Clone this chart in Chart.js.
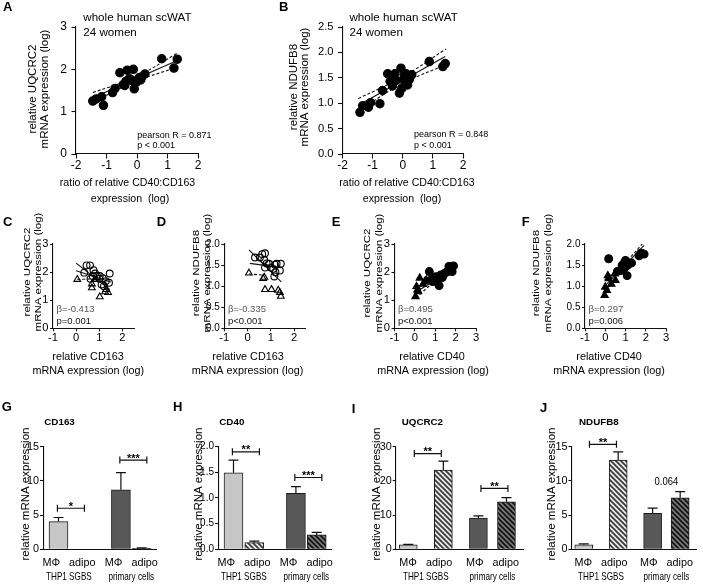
<!DOCTYPE html>
<html><head><meta charset="utf-8">
<script src="https://cdn.jsdelivr.net/npm/chart.js@4.4.1/dist/chart.umd.min.js"></script>
<style>
html,body{margin:0;padding:0;background:#fff;}
#fig{position:relative;width:703px;height:584px;overflow:hidden;background:#fff;}
#fig canvas{position:absolute;}
</style></head><body><div id="fig"></div>
<script>
// ================= DATA =================
// Panel A: UQCRC2 vs CD40:CD163 ratio (log)
const aX = [-1.45,-1.34,-1.16,-1.10,-0.80,-0.72,-0.56,-0.45,-0.36,-0.32,-0.25,-0.12,-0.17,-0.09,0.01,0.08,0.16,0.26,0.81,1.21,1.32,-0.40,0.12,-0.02];
const aY = [1.25,1.30,1.35,1.15,1.45,1.55,1.92,1.64,1.72,1.98,1.78,2.00,1.74,1.54,1.74,1.81,1.82,1.89,2.25,2.03,2.24,1.62,1.75,1.70];
const aFitX = [-1.45, 1.30], aFitY = [1.33, 2.20];
const aUpX = [-1.45, -0.10, 1.32], aUpY = [1.45, 1.80, 2.38];
const aLoX = [-1.45, -0.10, 1.32], aLoY = [1.22, 1.70, 2.05];
const aXTicks = [-2,-1,0,1,2], aYTicks = [0,1,2,3];
// Panel B: NDUFB8 vs CD40:CD163 ratio (log)
const bX = [-1.42,-1.33,-1.14,-1.07,-0.76,-0.67,-0.50,-0.42,-0.34,-0.26,-0.22,-0.11,-0.06,-0.03,0.02,0.11,0.16,0.22,0.30,0.88,1.33,1.41,-0.30,0.05];
const bY = [0.82,0.95,0.92,1.01,0.99,1.25,1.58,1.43,1.34,1.58,1.45,1.20,1.69,1.29,1.46,1.58,1.36,1.47,1.56,1.82,1.72,1.78,1.50,1.55];
const bFitX = [-1.44, 1.41], bFitY = [0.97, 1.92];
const bUpX = [-1.48, 0.00, 1.44], bUpY = [1.09, 1.52, 2.07];
const bLoX = [-1.40, 0.00, 1.44], bLoY = [0.88, 1.39, 1.76];
const bXTicks = [-2,-1,0,1,2], bYTicks = [0,0.5,1,1.5,2,2.5];
// Panel C: UQCRC2 vs CD163 (circles / triangles)
const cCircX = [0.45,0.60,0.35,0.75,0.82,0.90,1.02,1.00,1.15,1.28,1.42,1.45,1.10,1.20,0.72,0.62];
const cCircY = [2.24,2.24,1.98,2.07,1.95,1.86,1.86,1.76,1.78,1.68,1.62,1.95,1.56,1.50,1.86,1.76];
const cTriX = [0.05,0.68,0.68,1.02,1.30,1.38,0.80,1.25];
const cTriY = [1.74,1.58,1.44,1.12,1.38,1.27,1.74,1.30];
const cFit1X = [0.00, 1.45], cFit1Y = [2.32, 1.38];
const cFit2X = [0.00, 1.50], cFit2Y = [2.05, 1.65];
const cDashX = [0.05, 0.90], cDashY = [1.74, 1.76];
const cXTicks = [-1,0,1,2], cYTicks = [0,1,2,3];
// Panel D: NDUFB8 vs CD163
const dCircX = [0.32,0.53,0.63,0.75,0.72,0.82,0.92,0.75,1.00,1.10,1.18,1.25,1.43,1.39,1.15,1.20];
const dCircY = [1.68,1.68,1.76,1.78,1.62,1.54,1.53,1.44,1.44,1.41,1.51,1.53,1.53,1.37,1.23,1.33];
const dTriX = [0.06,0.67,0.72,0.75,1.03,1.32,1.43,1.39];
const dTriY = [1.31,1.18,1.21,0.92,0.92,0.90,0.76,0.85];
const dFit1X = [0.06, 1.45], dFit1Y = [1.86, 1.10];
const dFit2X = [0.10, 1.45], dFit2Y = [1.54, 1.44];
const dDashX = [0.06, 0.72], dDashY = [1.29, 1.26];
const dXTicks = [-1,0,1,2], dYTicks = [0,0.5,1,1.5,2];
// Panel E: UQCRC2 vs CD40
const eCircX = [0.71,0.83,0.92,1.03,1.11,1.27,1.35,1.67,1.90,1.83,1.19,0.88,1.45,0.98,1.55,1.05];
const eCircY = [2.02,1.75,1.81,1.84,1.72,1.90,1.81,2.20,2.22,2.02,1.52,1.66,1.95,1.70,2.00,1.78];
const eTriX = [0.03,0.13,0.24,0.40,0.48,0.56,0.08,0.16];
const eTriY = [1.13,1.37,1.79,1.57,1.66,1.72,1.49,1.31];
const eFitX = [-0.05, 1.97], eFitY = [1.25, 2.13];
const eUpX = [-0.05, 1.00, 1.97], eUpY = [1.42, 1.78, 2.28];
const eLoX = [0.05, 1.00, 1.97], eLoY = [1.08, 1.66, 1.98];
const eXTicks = [-1,0,1,2,3], eYTicks = [0,1,2,3];
// Panel F: NDUFB8 vs CD40
const fCircX = [0.17,0.83,0.92,1.00,1.08,1.17,0.75,1.08,1.67,1.92,1.75,0.92,1.30,0.60];
const fCircY = [1.65,1.49,1.54,1.61,1.49,1.53,1.37,1.25,1.72,1.76,1.78,1.41,1.55,1.35];
const fTriX = [-0.03,0.00,0.08,0.17,0.13,0.50,0.47,0.30];
const fTriY = [0.78,0.98,0.90,1.18,1.25,1.14,1.29,1.05];
const fFitX = [-0.03, 1.92], fFitY = [1.00, 1.97];
const fUpX = [-0.03, 0.90, 1.92], fUpY = [1.15, 1.52, 2.05];
const fLoX = [0.00, 0.90, 1.92], fLoY = [0.88, 1.42, 1.88];
const fXTicks = [-1,0,1,2,3], fYTicks = [0,0.5,1,1.5,2];
// Bar panels (order: MΦ THP1, adipo SGBS, MΦ primary, adipo primary)
const barGroups = ['MΦ   adipo', 'MΦ   adipo'];
const barSources = ['THP1 SGBS', 'primary cells'];
const gMeans = [4.05, 0, 8.70, 0.15], gErr = [0.60, 0, 2.50, 0.05];
const hMeans = [1.49, 0.13, 1.09, 0.28], hErr = [0.25, 0.03, 0.13, 0.05];
const iMeans = [1.30, 23.2, 9.10, 13.9], iErr = [0.15, 2.60, 0.70, 1.20];
const jMeans = [0.65, 13.05, 5.26, 7.54], jErr = [0.15, 1.20, 0.75, 0.88];
const gYTicks = [0,5,10,15], hYTicks = [0,0.5,1,1.5,2], iYTicks = [0,10,20,30], jYTicks = [0,5,10,15];
const gSig = [{a:0,b:1,y:6.0,t:'*'},{a:2,b:3,y:13.05,t:'***'}];
const hSig = [{a:0,b:1,y:1.90,t:'**'},{a:2,b:3,y:1.40,t:'***'}];
const iSig = [{a:0,b:1,y:28.0,t:'**'},{a:2,b:3,y:17.8,t:'**'}];
const jSig = [{a:0,b:1,y:15.35,t:'**'},{a:2,b:3,y:9.8,t:'0.064',plain:true}];

// ================= HELPERS =================
const FONT = "'Liberation Sans', Arial, Helvetica, sans-serif";
const INK = '#000';
const fig = document.getElementById('fig');
function makeCanvas(r) {
  const c = document.createElement('canvas');
  c.width = r.w; c.height = r.h;
  c.style.left = r.l + 'px'; c.style.top = r.t + 'px';
  c.style.width = r.w + 'px'; c.style.height = r.h + 'px';
  fig.appendChild(c);
  return c;
}
function drawText(ctx, t, x, y, o) {
  ctx.save();
  ctx.font = (o.bold ? 'bold ' : '') + (o.size || 11.5) + 'px ' + FONT;
  ctx.fillStyle = o.color || INK;
  ctx.textAlign = o.align || 'center';
  ctx.textBaseline = o.baseline || 'middle';
  ctx.translate(x, y);
  if (o.sq) ctx.scale(o.sq, 1);
  if (o.rot) ctx.rotate(o.rot * Math.PI / 180);
  ctx.fillText(t, 0, 0);
  ctx.restore();
}
function textPlugin(items, r) {
  return { id: 'freeText', afterDraw(chart) {
    for (const [t, x, y, o = {}] of items) drawText(chart.ctx, t, x - r.l, y - r.t, o);
  }};
}
function linAxis(o) {
  return {
    type: 'linear', position: o.horizontal ? 'bottom' : 'left',
    min: o.min, max: o.max, offset: false,
    afterBuildTicks: s => { s.ticks = o.ticks.map(v => ({ value: v })); },
    afterFit: s => {
      if (o.horizontal) { s.height = o.fix; s.paddingLeft = 0; s.paddingRight = 0; }
      else { s.width = o.fix; s.paddingTop = 0; s.paddingBottom = 0; }
    },
    grid: { display: true, offset: false, drawOnChartArea: false, drawTicks: o.tickLen > 0, tickLength: o.tickLen, tickColor: '#111', tickWidth: 1.1 },
    border: { display: true, color: '#111', width: 1.1 },
    ticks: {
      color: INK, font: { family: FONT, size: o.size, lineHeight: o.lh || 1.2 },
      padding: o.pad, autoSkip: false, maxRotation: 0, minRotation: 0,
      callback: o.labels ? ((v, i) => o.labels[i]) : (v => o.fmt ? Number(v).toFixed(o.fmt) : String(v))
    }
  };
}
const pts = (xs, ys) => xs.map((x, i) => ({ x, y: ys[i] }));
function pointSet(xs, ys, style, r, filled) {
  return { data: pts(xs, ys), pointStyle: style, pointRadius: r, pointHoverRadius: r,
    backgroundColor: filled ? '#000' : 'rgba(0,0,0,0)', borderColor: '#000',
    pointBorderWidth: 1.1, borderWidth: 1.1, showLine: false };
}
function lineSet(xs, ys, dashed) {
  return { data: pts(xs, ys), showLine: true, pointRadius: 0, borderColor: '#111', borderWidth: 1.1,
    borderDash: dashed ? [3, 2] : [], tension: xs.length > 2 ? 0.4 : 0, fill: false };
}
function baseOpts(r, a) {
  return {
    responsive: false, animation: false, events: [],
    layout: { padding: { left: 0, top: a.t - r.t, right: r.l + r.w - a.r, bottom: 0 } },
    plugins: { legend: { display: false }, tooltip: { enabled: false }, title: { display: false } }
  };
}
function scatterPanel(r, a, xAx, yAx, datasets, texts) {
  const opts = baseOpts(r, a);
  opts.scales = {
    x: linAxis(Object.assign({ horizontal: true, fix: r.t + r.h - a.b }, xAx)),
    y: linAxis(Object.assign({ fix: a.l - r.l }, yAx))
  };
  new Chart(makeCanvas(r), { type: 'scatter', data: { datasets }, options: opts, plugins: [textPlugin(texts, r)] });
}
function hatch(base, stripe) {
  const n = 5, c = document.createElement('canvas'); c.width = n; c.height = n;
  const g = c.getContext('2d');
  g.fillStyle = base; g.fillRect(0, 0, n, n);
  g.strokeStyle = stripe; g.lineWidth = 1.7; g.beginPath();
  for (const k of [-n, 0, n]) { g.moveTo(k - 1, -1); g.lineTo(k + n + 1, n + 1); }
  g.stroke();
  return g.createPattern(c, 'repeat');
}
const barColors = ['#c6c6c6', hatch('#e8e8e8', '#3a3a3a'), '#585858', hatch('#787878', '#111')];
function barExtras(means, errs, sig, groupPos) {
  return { id: 'barExtras', afterDatasetsDraw(chart) {
    const ctx = chart.ctx, ys = chart.scales.y, xs = chart.scales.x;
    const bars = chart.getDatasetMeta(0).data;
    ctx.save(); ctx.strokeStyle = '#111'; ctx.lineWidth = 1.2;
    bars.forEach((b, i) => {
      if (!errs[i]) return;
      const y0 = ys.getPixelForValue(means[i]), y1 = ys.getPixelForValue(means[i] + errs[i]);
      ctx.beginPath(); ctx.moveTo(b.x, y0); ctx.lineTo(b.x, y1);
      ctx.moveTo(b.x - 5, y1); ctx.lineTo(b.x + 5, y1); ctx.stroke();
    });
    sig.forEach(s => {
      const cx = (bars[s.a].x + bars[s.b].x) / 2 + (s.plain ? 0 : 2);
      const yy = ys.getPixelForValue(s.y);
      if (s.plain) { drawText(ctx, s.t, cx, yy, { size: 10.5, sq: 0.9 }); return; }
      ctx.beginPath();
      ctx.moveTo(cx - 13.5, yy); ctx.lineTo(cx + 13.5, yy);
      ctx.moveTo(cx - 13.5, yy - 3.5); ctx.lineTo(cx - 13.5, yy + 3.5);
      ctx.moveTo(cx + 13.5, yy - 3.5); ctx.lineTo(cx + 13.5, yy + 3.5);
      ctx.stroke();
      drawText(ctx, s.t, cx, yy + 1.5, { size: 11, bold: true, baseline: 'alphabetic' });
    });
    // second label line: cell source under each pair
    groupPos.forEach((p, g) => drawText(ctx, barSources[g], xs.getPixelForValue(p), chart.chartArea.bottom + 27.6, { size: 10.2, sq: 0.8 }));
    ctx.restore();
  }};
}
function barPanel(r, a, pos, xMin, xMax, thick, means, errs, yMax, yTicks, yFmt, sig, texts) {
  const opts = baseOpts(r, a);
  const groupPos = [(pos[0] + pos[1]) / 2, (pos[2] + pos[3]) / 2];
  opts.scales = {
    x: linAxis({ horizontal: true, fix: r.t + r.h - a.b, min: xMin, max: xMax, ticks: groupPos, labels: barGroups,
                 size: 10.8, lh: 1.28, tickLen: 0, pad: 7.1 }),
    y: linAxis({ fix: a.l - r.l, min: 0, max: yMax, ticks: yTicks, fmt: yFmt, size: yFmt ? 10 : 10.8, tickLen: 3.3, pad: 1 })
  };
  new Chart(makeCanvas(r), {
    type: 'bar',
    data: { datasets: [{ data: pos.map((p, i) => ({ x: p, y: means[i] })), backgroundColor: barColors,
      borderColor: '#1a1a1a', borderWidth: 1, barThickness: thick, borderSkipped: 'start' }] },
    options: opts,
    plugins: [barExtras(means, errs, sig, groupPos), textPlugin(texts, r)]
  });
}
const L = (t, x, y) => [t, x, y, { bold: true, size: 13, align: 'left' }];
const YT = (t, x, y, sq) => [t, x, y, { rot: -90, size: 11.5, sq: sq || 1 }];
const T = (t, x, y, o) => [t, x, y, Object.assign({ size: 10.8 }, o || {})];
const S = (t, x, y, c) => [t, x, y, { size: 9.5, align: 'left', color: c || '#111' }];

// ================= PANELS =================
const big = { size: 12, tickLen: 4.5 };
scatterPanel({ l: 0, t: 0, w: 268, h: 208 }, { l: 76, t: 27, r: 198, b: 154 },
  Object.assign({ min: -2, max: 2, ticks: aXTicks, pad: 0 }, big),
  Object.assign({ min: 0, max: 3, ticks: aYTicks, pad: 4.5 }, big),
  [pointSet(aX, aY, 'circle', 4.2, true), lineSet(aFitX, aFitY, false), lineSet(aUpX, aUpY, true), lineSet(aLoX, aLoY, true)],
  [L('A', 3, 7), T('whole human scWAT', 83.3, 18, { align: 'left', size: 11.6 }), T('24 women', 83.3, 32.7, { align: 'left', size: 11.6 }),
   [ 'pearson R = 0.871', 137.3, 135.5, { size: 9, align: 'left' } ], [ 'p < 0.001', 137.3, 145.7, { size: 9, align: 'left' } ],
   YT('relative UQCRC2', 33.3, 89, 0.92), YT('mRNA expression (log)', 44.7, 89, 0.92),
   T('ratio of relative CD40:CD163', 127.5, 182.7, { size: 10.6 }), T('expression  (log)', 130, 199, { size: 10.6 })]);

scatterPanel({ l: 270, t: 0, w: 240, h: 208 }, { l: 342.5, t: 27, r: 463, b: 154 },
  Object.assign({ min: -2, max: 2, ticks: bXTicks, pad: 0 }, big),
  Object.assign({ min: 0, max: 2.5, ticks: bYTicks, fmt: 1, pad: 4.5 }, big, { size: 11.2 }),
  [pointSet(bX, bY, 'circle', 4.2, true), lineSet(bFitX, bFitY, false), lineSet(bUpX, bUpY, true), lineSet(bLoX, bLoY, true)],
  [L('B', 279, 7), T('whole human scWAT', 349.5, 18, { align: 'left', size: 11.6 }), T('24 women', 349.5, 32.7, { align: 'left', size: 11.6 }),
   [ 'pearson R = 0.848', 414, 135, { size: 9, align: 'left' } ], [ 'p < 0.001', 414, 145.5, { size: 9, align: 'left' } ],
   YT('relative NDUFB8', 293.7, 87, 0.92), YT('mRNA expression (log)', 305, 87, 0.92),
   T('ratio of relative CD40:CD163', 407, 183, { size: 10.6 }), T('expression  (log)', 402, 199, { size: 10.6 })]);

const sm = { size: 11.2, tickLen: 3 };
const smD = { size: 10, tickLen: 3 };
scatterPanel({ l: 0, t: 212, w: 165, h: 168 }, { l: 53, t: 244, r: 134, b: 328.3 },
  Object.assign({ min: -1, max: 2.5, ticks: cXTicks, pad: 0 }, sm),
  Object.assign({ min: 0, max: 3, ticks: cYTicks, pad: 1.5 }, sm),
  [pointSet(cCircX, cCircY, 'circle', 3.4, false), pointSet(cTriX, cTriY, 'triangle', 3.9, false),
   lineSet(cFit1X, cFit1Y, false), lineSet(cFit2X, cFit2Y, false), lineSet(cDashX, cDashY, true)],
  [L('C', 3, 222), YT('relative UQCRC2', 27.2, 272, 0.85), YT('mRNA expression (log)', 38.5, 272, 0.85),
   T('relative CD163', 88, 357), T('mRNA expression (log)', 88.3, 371),
   S('β=-0.413', 56.5, 309, '#555'), S('p=0.001', 56.5, 321)]);

scatterPanel({ l: 150, t: 212, w: 170, h: 168 }, { l: 224.3, t: 244, r: 305.7, b: 328.3 },
  Object.assign({ min: -1, max: 2.5, ticks: dXTicks, pad: 0 }, sm),
  Object.assign({ min: 0, max: 2, ticks: dYTicks, fmt: 1, pad: 1.5 }, smD),
  [pointSet(dCircX, dCircY, 'circle', 3.4, false), pointSet(dTriX, dTriY, 'triangle', 3.9, false),
   lineSet(dFit1X, dFit1Y, false), lineSet(dFit2X, dFit2Y, false), lineSet(dDashX, dDashY, true)],
  [L('D', 156.7, 222), YT('relative NDUFB8', 196, 273, 0.85), YT('mRNA expression (log)', 207, 273, 0.85),
   T('relative CD163', 248, 357), T('mRNA expression (log)', 247.5, 371),
   S('β=-0.335', 228, 309, '#555'), S('p<0.001', 228, 321)]);

scatterPanel({ l: 325, t: 212, w: 185, h: 168 }, { l: 394.5, t: 244, r: 476, b: 328.3 },
  Object.assign({ min: -1, max: 3, ticks: eXTicks, pad: 0 }, sm),
  Object.assign({ min: 0, max: 3, ticks: eYTicks, pad: 1.5 }, sm),
  [pointSet(eCircX, eCircY, 'circle', 3.9, true), pointSet(eTriX, eTriY, 'triangle', 4.2, true),
   lineSet(eFitX, eFitY, false), lineSet(eUpX, eUpY, true), lineSet(eLoX, eLoY, true)],
  [L('E', 331.7, 222), YT('relative UQCRC2', 367.7, 273, 0.85), YT('mRNA expression (log)', 379.5, 273, 0.85),
   T('relative CD40', 432, 357), T('mRNA expression (log)', 433, 371),
   S('β=0.495', 398, 309.5, '#555'), S('p<0.001', 398, 321.5)]);

scatterPanel({ l: 515, t: 212, w: 188, h: 168 }, { l: 585, t: 244, r: 666, b: 328.3 },
  Object.assign({ min: -1, max: 3, ticks: fXTicks, pad: 0 }, sm),
  Object.assign({ min: 0, max: 2, ticks: fYTicks, fmt: 1, pad: 1.5 }, smD),
  [pointSet(fCircX, fCircY, 'circle', 3.9, true), pointSet(fTriX, fTriY, 'triangle', 4.2, true),
   lineSet(fFitX, fFitY, false), lineSet(fUpX, fUpY, true), lineSet(fLoX, fLoY, true)],
  [L('F', 521.7, 222), YT('relative NDUFB8', 536.7, 273, 0.85), YT('mRNA expression (log)', 548.3, 273, 0.85),
   T('relative CD40', 609, 357), T('mRNA expression (log)', 609, 371),
   S('β=0.297', 588.5, 309.5, '#555'), S('p=0.006', 588.5, 321.5)]);

const posPaired = [1, 2, 4, 5], posSpread = [1, 2, 3, 3.8];
const sub = (t, x) => [t, x, 422, { bold: true, size: 9.8, align: 'left' }];
barPanel({ l: 0, t: 395, w: 175, h: 189 }, { l: 43.3, t: 446.7, r: 156.3, b: 549.3 }, posPaired, 0.27, 5.7, 19,
  gMeans, gErr, 15, gYTicks, 0, gSig,
  [L('G', 1.7, 407.5), sub('CD163', 44.3), YT('relative mRNA expression', 25.8, 494, 0.92)]);
barPanel({ l: 170, t: 395, w: 175, h: 189 }, { l: 218.3, t: 446.7, r: 331.3, b: 549.3 }, posPaired, 0.27, 5.7, 19,
  hMeans, hErr, 2, hYTicks, 1, hSig,
  [L('H', 173, 407.5), sub('CD40', 219.3), YT('relative mRNA expression', 199, 494, 0.92)]);
barPanel({ l: 345, t: 395, w: 182, h: 189 }, { l: 396, t: 446.7, r: 523.3, b: 549.3 }, posSpread, 0.65, 4.28, 18,
  iMeans, iErr, 30, iYTicks, 0, iSig,
  [L('I', 351.7, 409), sub('UQCRC2', 401.7), YT('relative mRNA expression', 377.5, 494, 0.92)]);
barPanel({ l: 530, t: 395, w: 173, h: 189 }, { l: 571.7, t: 446.7, r: 696.7, b: 549.3 }, posSpread, 0.65, 4.28, 18,
  jMeans, jErr, 15, jYTicks, 0, jSig,
  [L('J', 540, 408.5), sub('NDUFB8', 579), YT('relative mRNA expression', 552.5, 494, 0.92)]);
</script>
</body></html>
